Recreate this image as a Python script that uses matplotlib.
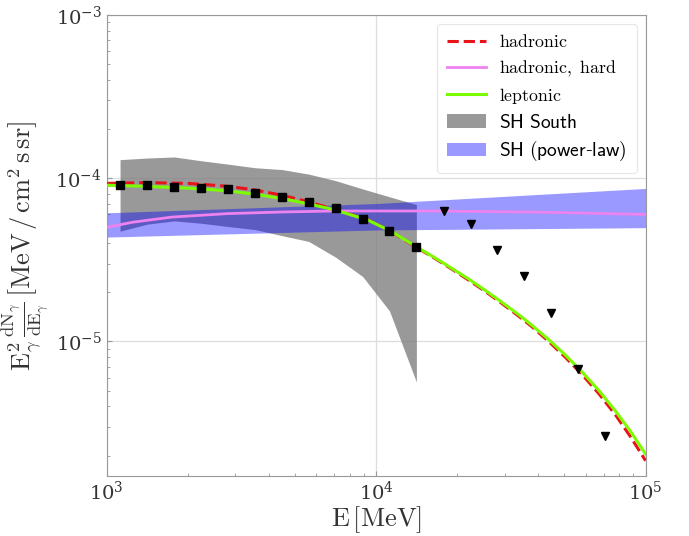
"""Gamma-ray spectrum of the SH South region with model curves."""

import matplotlib

matplotlib.use("Agg")
import matplotlib.pyplot as plt

plt.rcParams["mathtext.fontset"] = "cm"
plt.rcParams["font.family"] = ["DejaVu Serif"]

# === DATA ===

# measured flux points (MeV / cm^2 s sr)
e_points = [1120, 1410, 1780, 2240, 2820, 3550, 4470, 5620, 7080, 8910, 11200, 14100]
flux_points = [9.12e-5, 9.03e-5, 8.9e-5, 8.73e-5, 8.57e-5, 8.09e-5,
               7.63e-5, 7.16e-5, 6.56e-5, 5.6e-5, 4.75e-5, 3.77e-5]

# upper limits
e_ul = [17800, 22400, 28200, 35500, 44700, 56200, 70800]
flux_ul = [6.28e-5, 5.26e-5, 3.64e-5, 2.51e-5, 1.49e-5, 6.79e-6, 2.65e-6]

# SH South band
band_lo = [4.74e-5, 5.23e-5, 5.48e-5, 5.3e-5, 5.06e-5, 4.85e-5,
           4.45e-5, 4.1e-5, 3.28e-5, 2.5e-5, 1.54e-5, 5.65e-6]
band_hi = [1.30e-4, 1.33e-4, 1.35e-4, 1.28e-4, 1.22e-4, 1.16e-4,
           1.13e-4, 1.06e-4, 9.66e-5, 8.6e-5, 7.7e-5, 6.9e-5]

# SH power-law band
e_pl = [1e3, 1e4, 1e5]
pl_lo = [4.36e-5, 4.82e-5, 4.98e-5]
pl_hi = [6.14e-5, 7.0e-5, 8.66e-5]

# model curves
e_model = [1000, 1400, 2000, 2760, 3516, 4500, 5557, 6990, 9300, 11370, 14300,
           16500, 19050, 22000, 25360, 29000, 33800, 38000, 43700, 50000,
           58000, 67000, 77500, 88000, 100000]
had = [9.3e-5, 9.4e-5, 9.3e-5, 8.95e-5, 8.5e-5, 7.85e-5, 7.2e-5, 6.45e-5,
       5.57e-5, 4.7e-5, 3.72e-5, 3.23e-5, 2.78e-5, 2.38e-5, 2.03e-5,
       1.73e-5, 1.43e-5, 1.225e-5, 1.0e-5, 8.1e-6, 6.3e-6, 4.8e-6,
       3.53e-6, 2.6e-6, 1.86e-6]
lep = [9.06e-5, 8.92e-5, 8.7e-5, 8.4e-5, 8.0e-5, 7.5e-5, 6.99e-5, 6.41e-5,
       5.55e-5, 4.72e-5, 3.75e-5, 3.26e-5, 2.81e-5, 2.42e-5, 2.06e-5,
       1.76e-5, 1.46e-5, 1.25e-5, 1.026e-5, 8.36e-6, 6.53e-6, 5.02e-6,
       3.73e-6, 2.81e-6, 2.04e-6]

e_hard = [1000, 1250, 1740, 2800, 4430, 6970, 16400, 40000, 100000]
had_hard = [5.01e-5, 5.38e-5, 5.78e-5, 6.07e-5, 6.21e-5, 6.3e-5, 6.3e-5, 6.2e-5, 6.0e-5]

# === PLOT ===

fig, ax = plt.subplots(figsize=(6.89, 5.36), dpi=100)
fig.subplots_adjust(left=0.155, right=0.937, bottom=0.112, top=0.972)

ax.set_xscale("log")
ax.set_yscale("log")

south = ax.fill_between(e_points, band_lo, band_hi, color="grey", alpha=0.8,
                        lw=0, zorder=1)
power = ax.fill_between(e_pl, pl_lo, pl_hi, color="blue", alpha=0.4,
                        lw=0, zorder=2)

(l_had,) = ax.plot(e_model, had, color="#e8141a", ls="--", lw=2.2, zorder=3)
(l_hard,) = ax.plot(e_hard, had_hard, color="violet", lw=2, zorder=3)
(l_lep,) = ax.plot(e_model, lep, color="lawngreen", lw=2.2, zorder=4)

ax.plot(e_points, flux_points, "s", color="black", ms=5.5, zorder=5)
ax.plot(e_ul, flux_ul, "v", color="black", ms=5.5, zorder=5)

ax.set_xlim(1e3, 1e5)
ax.set_ylim(1.5e-6, 1e-3)

ax.grid(True, which="major", color="#dddddd", lw=0.9)
ax.set_axisbelow(True)
for spine in ax.spines.values():
    spine.set_color("#999999")
ax.tick_params(which="both", direction="in", colors="#999999",
               labelcolor="#333333", labelsize=14)

ax.set_xlabel(r"$\mathrm{E}\,[\mathrm{MeV}]$", fontsize=19, color="#333333",
              labelpad=0)
ax.set_ylabel(r"$\mathrm{E}_\gamma^2\,\frac{\mathrm{dN}_\gamma}{\mathrm{dE}_\gamma}"
              r"\,\left[\mathrm{MeV\,/\,cm^2\,s\,sr}\right]$",
              fontsize=19, color="#333333", labelpad=3)

handles = [l_had, l_hard, l_lep, south, power]
labels = [r"$\mathrm{hadronic}$", r"$\mathrm{hadronic,\ hard}$",
          r"$\mathrm{leptonic}$", r"$\mathsf{SH\ South}$",
          r"$\mathsf{SH\ (power}$-$\mathsf{law)}$"]
leg = ax.legend(handles, labels, loc="upper right", fontsize=14, framealpha=1,
                edgecolor="#e6e6e6", handlelength=2.0, borderpad=0.5,
                labelspacing=0.38, borderaxespad=0.45, handletextpad=0.7)
leg.get_frame().set_linewidth(0.8)
for text in leg.get_texts()[:3]:
    text.set_fontsize(12.8)

fig.savefig("out.png", dpi=100)
